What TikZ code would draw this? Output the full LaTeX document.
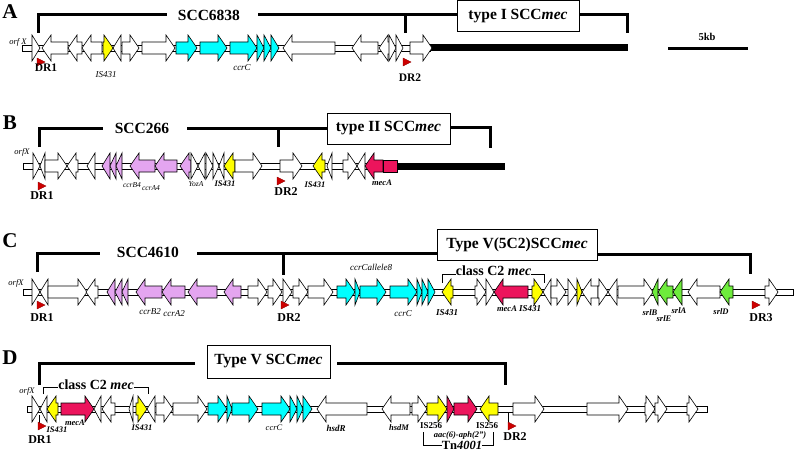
\documentclass[tikz,border=0pt]{standalone}
\usepackage{fontspec}
\setmainfont{Liberation Serif}

\definecolor{ccrcyan}{RGB}{0,255,255}
\definecolor{isyel}{RGB}{255,255,0}
\definecolor{ccrviol}{RGB}{228,165,240}
\definecolor{mecred}{RGB}{236,20,92}
\definecolor{srlgreen}{RGB}{110,236,60}
\definecolor{drred}{RGB}{205,0,0}

%% row height (y of the backbone)
\newcommand{\ry}{0}
%% gene pointing right, from #2 to #3
\newcommand{\genR}[3][white]{%
  \pgfmathsetmacro{\ghd}{min(9,#3-#2)}%
  \draw[gene,fill=#1] (#2,\ry-6) -- (#3-\ghd,\ry-6) -- (#3-\ghd,\ry-13)
    -- (#3,\ry) -- (#3-\ghd,\ry+13) -- (#3-\ghd,\ry+6) -- (#2,\ry+6) -- cycle;}
%% gene pointing left, from #2 to #3
\newcommand{\genL}[3][white]{%
  \pgfmathsetmacro{\ghd}{min(9,#3-#2)}%
  \draw[gene,fill=#1] (#3,\ry-6) -- (#2+\ghd,\ry-6) -- (#2+\ghd,\ry-13)
    -- (#2,\ry) -- (#2+\ghd,\ry+13) -- (#2+\ghd,\ry+6) -- (#3,\ry+6) -- cycle;}
%% direct repeat
\newcommand{\drmark}[2]{\draw[drtri] (#1,#2-4) -- (#1+8,#2) -- (#1,#2+4) -- cycle;}

\begin{document}
\begin{tikzpicture}[x=1pt,y=-1pt,
  gene/.style={draw,line width=0.6pt,line join=miter},
  bb/.style={draw,fill=white,line width=0.6pt},
  brk/.style={line width=3pt},
  cbrk/.style={line width=0.9pt},
  drtri/.style={fill=drred,draw=drred!70!black,line width=0.3pt},
  panel/.style={font=\fontsize{21}{21}\selectfont\bfseries,inner sep=0pt},
  scc/.style={font=\fontsize{15.5}{16}\selectfont\bfseries,inner sep=0pt},
  mecbox/.style={draw,fill=white,line width=1pt,inner sep=0pt,
    font=\fontsize{15.5}{16}\selectfont\bfseries},
  drl/.style={font=\fontsize{12}{12}\selectfont\bfseries,inner sep=0pt},
  lab/.style={font=\fontsize{8.5}{9}\selectfont\itshape,inner sep=0pt},
  blab/.style={font=\fontsize{8.5}{9}\selectfont\bfseries\itshape,inner sep=0pt},
  clab/.style={font=\fontsize{14}{14}\selectfont\bfseries,inner sep=0pt}]
\useasboundingbox (0,0) rectangle (794,452);

%% ---------------- A ----------------
\node[panel] (pA) at (10,12) {A};
\node[mecbox,minimum width=122pt,minimum height=31pt] (bxA) at (518,16.5) {type I SCC\textit{mec}};
\node[scc] (sccA) at (209,15) {SCC6838};
\draw[brk] (38,33) -- (38,15) -- (167,15);
\draw[brk] (258,15) -- (bxA.west|-0,15);
\draw[brk] (405,15) -- (405,33);
\draw[brk] (bxA.east|-0,15) -- (627,15) -- (627,33);
\renewcommand{\ry}{48}
\draw[bb] (22,\ry-3) rectangle (430,\ry+3);
\fill (430,\ry-3.5) rectangle (628,\ry+3.5);
\genR{32}{40}
\genL{42}{68} \genL{68}{82} \genL{82}{102}
\genR[isyel]{103}{113} \genL{113}{121}
\genR{122}{139} \genR{142}{175}
\genR[ccrcyan]{176}{197} \genR[ccrcyan]{200}{227} \genR[ccrcyan]{230}{257}
\genR[ccrcyan]{257}{264} \genR[ccrcyan]{264}{271} \genR[ccrcyan]{271}{279}
\genL{283}{335} \genL{352}{378} \genL{379}{390}
\genR{389}{396} \genR{396}{403} \genR{410}{432}
\drmark{37}{62}
\drmark{403}{62}
\node[lab] (orfA) at (18,42) {orf X};
\node[drl,font=\fontsize{11.5}{12}\selectfont\bfseries] (dr1A) at (46,68) {DR1};
\node[lab,font=\fontsize{9}{9}\selectfont\itshape] (isA) at (106,75) {IS431};
\node[lab,font=\fontsize{9}{9}\selectfont\itshape] (ccrA) at (242,68) {ccrC};
\node[drl,font=\fontsize{11.5}{12}\selectfont\bfseries] (dr2A) at (410,78) {DR2};
%% scale bar
\node[drl,font=\fontsize{10.5}{11}\selectfont\bfseries] (kb) at (707,37) {5kb};
\draw[line width=3pt] (668,49) -- (748,49);

%% ---------------- B ----------------
\node[panel] (pB) at (10,123) {B};
\node[mecbox,minimum width=123pt,minimum height=31pt] (bxB) at (388.5,128.5) {type II SCC\textit{mec}};
\node[scc] (sccB) at (142,128) {SCC266};
\draw[brk] (39,147) -- (39,128) -- (103,128);
\draw[brk] (187,128) -- (bxB.west|-0,128);
\draw[brk] (278,128) -- (278,147);
\draw[brk] (bxB.east|-0,127) -- (490,127) -- (490,148);
\renewcommand{\ry}{166}
\draw[bb] (23,\ry-3) rectangle (397,\ry+3);
\fill (397,\ry-3.5) rectangle (505,\ry+3.5);
\genR{33}{40} \genL{40}{45} \genR{45}{67} \genL{67}{78} \genL{87}{95}
\genL[ccrviol]{102}{110} \genL[ccrviol]{110}{116} \genL[ccrviol]{116}{122}
\genL[ccrviol]{130}{155} \genL[ccrviol]{155}{177} \genL[ccrviol]{180}{191}
\genR{191}{198} \genL{198}{205} \genR{206}{213} \genR{213}{219} \genL{219}{224}
\genL[isyel]{224}{235}
\genR{235}{262} \genR{280}{302}
\genL[isyel]{313}{325} \genL{327}{332}
\genR{343}{357} \genL{357}{365}
\genL[mecred]{365}{383}
\draw[gene,fill=mecred] (383,\ry-6) rectangle (397,\ry+6);
\drmark{38}{186}
\drmark{277}{181}
\node[lab] (orfB) at (22,152) {orfX};
\node[drl] (dr1B) at (42,196) {DR1};
\node[drl] (dr2B) at (286,192) {DR2};
\node[lab,font=\fontsize{7.5}{8}\selectfont\itshape] (ccrbB) at (132,185) {ccrB4};
\node[lab,font=\fontsize{7.5}{8}\selectfont\itshape] (ccraB) at (151,188) {ccrA4};
\node[lab,font=\fontsize{7.5}{8}\selectfont\itshape] (yozB) at (196,184) {YozA};
\node[blab] (is1B) at (225,184) {IS431};
\node[blab] (is2B) at (315,185) {IS431};
\node[blab] (mecB) at (382,183) {mecA};

%% ---------------- C ----------------
\node[panel] (pC) at (10,241) {C};
\node[mecbox,minimum width=160pt,minimum height=31pt] (bxC) at (517,244.5) {Type V(5C2)SCC\textit{mec}};
\node[scc] (sccC) at (148,252) {SCC4610};
\draw[brk] (37,272) -- (37,253) -- (100,253);
\draw[brk] (197,253) -- (bxC.west|-0,253);
\draw[brk] (283,253) -- (283,275);
\draw[brk] (bxC.east|-0,254) -- (750,254) -- (750,274);
%% class C2 mec
\node[clab] (c2C) at (493.5,271) {class C2 \textit{mec}};
\draw[cbrk] (442,283) -- (442,274) -- (c2C.west|-0,274);
\draw[cbrk] (c2C.east|-0,274) -- (544,274) -- (544,283);
\renewcommand{\ry}{292}
\draw[bb] (23,\ry-3) rectangle (793,\ry+3);
\genR{32}{40} \genL{40}{48} \genR{48}{87} \genL{86}{98}
\genL[ccrviol]{107}{115} \genL[ccrviol]{115}{122} \genL[ccrviol]{122}{128}
\genL[ccrviol]{136}{162} \genL[ccrviol]{162}{185} \genL[ccrviol]{188}{217}
\genL[ccrviol]{224}{241}
\genR{248}{267} \genR{268}{282} \genR{283}{292} \genR{293}{308} \genR{308}{333}
\genR[ccrcyan]{337}{355} \genR[ccrcyan]{355}{360} \genR[ccrcyan]{360}{386}
\genR[ccrcyan]{390}{417} \genR[ccrcyan]{417}{422} \genR[ccrcyan]{422}{428}
\genR[ccrcyan]{428}{435}
\genL[isyel]{442}{453}
\genR{475}{486} \genR{486}{494}
\genL[mecred]{494}{528}
\genR[isyel]{532}{543}
\genL{543}{551} \genR{551}{566} \genR{568}{577}
\genR[isyel]{577}{582}
\genL{582}{598} \genR{598}{608} \genL{608}{617} \genR{618}{653}
\genL[srlgreen]{652}{658} \genL[srlgreen]{658}{673} \genL[srlgreen]{673}{682}
\genL{688}{720}
\genL[srlgreen]{720}{733}
\genR{765}{778}
\drmark{37}{305}
\drmark{281}{305}
\drmark{752}{305}
\node[lab] (orfC) at (16,283) {orfX};
\node[drl] (dr1C) at (42,318) {DR1};
\node[drl] (dr2C) at (289,318) {DR2};
\node[drl] (dr3C) at (761,318) {DR3};
\node[lab,font=\fontsize{9}{9}\selectfont\itshape] (ccrbC) at (150,312) {ccrB2};
\node[lab,font=\fontsize{9}{9}\selectfont\itshape] (ccraC) at (174,314) {ccrA2};
\node[lab,font=\fontsize{9}{9}\selectfont\itshape] (ccr8C) at (371,267) {ccrCallele8};
\node[lab,font=\fontsize{9}{9}\selectfont\itshape] (ccrcC) at (403,314) {ccrC};
\node[blab,font=\fontsize{9}{9}\selectfont\bfseries\itshape] (is1C) at (447,313) {IS431};
\node[blab] (mecC) at (507,309) {mecA};
\node[blab,font=\fontsize{9}{9}\selectfont\bfseries\itshape] (is2C) at (530,309) {IS431};
\node[blab] (srlbC) at (650,313) {srlB};
\node[blab] (srleC) at (664,319) {srlE};
\node[blab] (srlaC) at (679,311) {srlA};
\node[blab] (srldC) at (721,312) {srlD};

%% ---------------- D ----------------
\node[panel] (pD) at (10,358) {D};
\node[mecbox,minimum width=123pt,minimum height=33pt] (bxD) at (268.5,361.5) {Type V SCC\textit{mec}};
\draw[brk] (39,385) -- (39,363) -- (195,363);
\draw[brk] (337,363) -- (505,363) -- (505,385);
%% class C2 mec
\node[clab] (c2D) at (96,385) {class C2 \textit{mec}};
\draw[cbrk] (43,394) -- (43,387) -- (c2D.west|-0,387);
\draw[cbrk] (c2D.east|-0,387) -- (148,387) -- (148,394);
\renewcommand{\ry}{409}
\draw[bb] (27,\ry-3) rectangle (707,\ry+3);
\genR{32}{40} \genL{40}{47}
\genL[isyel]{47}{58}
\genR[mecred]{61}{94}
\genL{94}{101} \genL{102}{115} \genL{129}{133}
\genR[isyel]{136}{147} \genL{147}{155}
\genR{156}{173} \genR{173}{207}
\genR[ccrcyan]{208}{227} \genR[ccrcyan]{227}{232} \genR[ccrcyan]{232}{258}
\genR[ccrcyan]{262}{290} \genR[ccrcyan]{290}{297} \genR[ccrcyan]{297}{303}
\genR[ccrcyan]{303}{312}
\genL{317}{367} \genL{382}{410} \genR{412}{427}
\genR[isyel]{427}{447}
\genR[mecred]{447}{454} \genR[mecred]{454}{477}
\genL[isyel]{480}{498}
\genR{513}{544} \genR{587}{628} \genR{645}{655} \genR{655}{667} \genR{687}{698}
\draw[line width=0.6pt] (39,415) -- (39,424);
\drmark{38}{426}
\draw[line width=0.6pt] (508,412) -- (508,424);
\drmark{508}{426}
\node[lab] (orfD) at (27,391) {orfX};
\node[drl] (dr1D) at (40,440) {DR1};
\node[blab] (is1D) at (57,430) {IS431};
\node[blab] (mecD) at (75,423) {mecA};
\node[blab] (is2D) at (142,428) {IS431};
\node[lab] (ccrD) at (274,428) {ccrC};
\node[blab,font=\fontsize{9}{9}\selectfont\bfseries\itshape] (hsdrD) at (336,428) {hsdR};
\node[blab] (hsdmD) at (399,428) {hsdM};
\node[drl,font=\fontsize{9}{9}\selectfont\bfseries] (is256aD) at (431,426) {IS256};
\node[drl,font=\fontsize{9}{9}\selectfont\bfseries] (is256bD) at (487,426) {IS256};
\node[blab,font=\fontsize{8.5}{9}\selectfont\bfseries\itshape] (aacD) at (460,435) {aac(6)-aph(2\textquotedblright)};
\node[drl] (dr2D) at (515,437) {DR2};
%% Tn4001
\node[drl,font=\fontsize{12.5}{13}\selectfont\bfseries] (tnD) at (462,445) {Tn\textit{4001}};
\draw[cbrk] (423,432) -- (423,445) -- (tnD.west|-0,445);
\draw[cbrk] (tnD.east|-0,445) -- (493,445) -- (493,432);
\end{tikzpicture}
\end{document}
